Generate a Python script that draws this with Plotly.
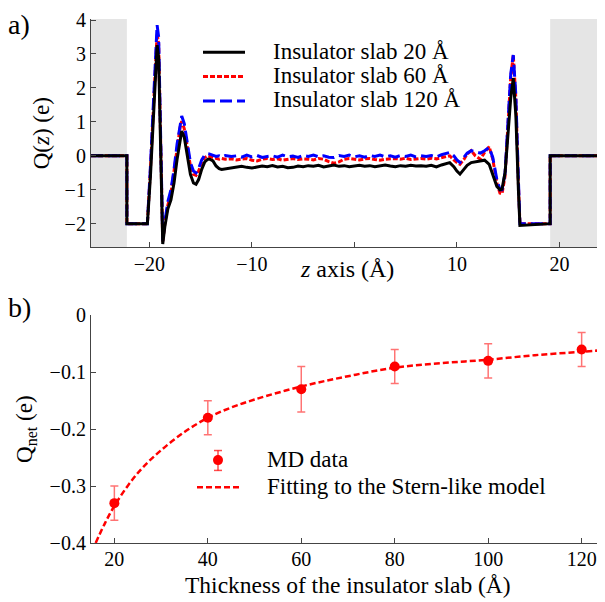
import plotly.graph_objects as go

# ---------------- Panel a data: Q(z) profiles ----------------
z_grid = [-25.7, -22.2, -22.2, -20.2, -19.9, -19.6, -19.4, -19.25, -19.1, -18.9, -18.7, -18.5,
          -18.2, -17.9, -17.6, -17.3, -17.0, -16.85, -16.6, -16.3, -16.0, -15.7, -15.45, -15.2,
          -14.9, -14.6, -14.3, -14.1, -13.8, -13.5, -13.2, -12.95, -12.6,
          -12.0, -11.5, -11.0, -10.5, -10.0, -9.5, -9.0, -8.5, -8.0, -7.5, -7.0, -6.5, -6.0,
          -5.5, -5.0, -4.5, -4.0, -3.5, -3.0, -2.5, -2.0, -1.5, -1.0, -0.5, 0.0, 0.5, 1.0,
          1.5, 2.0, 2.5, 3.0, 3.5, 4.0, 4.5, 5.0, 5.5, 6.0, 6.5, 7.0, 7.5, 8.0, 8.5, 9.0,
          9.3, 9.7, 10.0, 10.3, 10.7, 11.0, 11.4, 11.8, 12.3, 12.7, 13.15, 13.5, 13.9, 14.2,
          14.4, 14.7, 15.0, 15.25, 15.5, 15.75, 16.0, 16.15, 19.1, 19.1, 24.45]

q_20 = [0, 0, -2, -2, -0.6, 1.3, 2.6, 3.26, 2.9, 0.0, -2.6, -2.1,
        -1.56, -1.3, -0.8, -0.1, 0.55, 0.73, 0.55, -0.05, -0.55, -0.8, -0.84, -0.7,
        -0.4, -0.18, -0.1, -0.1, -0.15, -0.3, -0.38, -0.4, -0.38,
        -0.36, -0.33, -0.31, -0.34, -0.36, -0.33, -0.30, -0.32, -0.29, -0.33, -0.31, -0.35, -0.34,
        -0.30, -0.32, -0.29, -0.31, -0.28, -0.33, -0.30, -0.27, -0.31, -0.29, -0.32, -0.30, -0.28, -0.31,
        -0.29, -0.32, -0.30, -0.27, -0.30, -0.32, -0.29, -0.31, -0.28, -0.30, -0.29, -0.31, -0.28, -0.33, -0.27, -0.22,
        -0.2, -0.32, -0.45, -0.54, -0.4, -0.28, -0.2, -0.18, -0.16, -0.13, -0.25, -0.55, -0.9, -1.0,
        -0.98, -0.5, 0.6, 1.7, 2.29, 1.2, -1.0, -2.05, -2.0, 0, 0]

q_60 = [0, 0, -2, -2, -0.4, 1.6, 3.0, 3.6, 3.3, 0.3, -2.55, -2.0,
        -1.45, -1.1, -0.5, 0.2, 0.85, 1.02, 0.8, 0.2, -0.3, -0.55, -0.58, -0.45,
        -0.2, -0.05, 0.0, -0.02, -0.05, -0.08, -0.1, -0.08, -0.1,
        -0.09, -0.12, -0.1, -0.08, -0.13, -0.15, -0.1, -0.08, -0.11, -0.09, -0.13, -0.1, -0.08,
        -0.11, -0.09, -0.1, -0.12, -0.08, -0.1, -0.17, -0.22, -0.18, -0.1, -0.08, -0.1, -0.12, -0.09,
        -0.08, -0.11, -0.13, -0.1, -0.09, -0.08, -0.1, -0.07, -0.11, -0.09, -0.08, -0.1, -0.07, -0.09, -0.06, -0.03,
        0.0, -0.12, -0.2, -0.25, -0.1, 0.05, 0.15, 0.0, -0.1, 0.1, 0.27, -0.1, -0.8, -1.1,
        -1.12, -0.6, 0.9, 2.3, 2.97, 1.7, -0.8, -2.0, -2.0, 0, 0]

q_120 = [0, 0, -2, -2, -0.3, 1.8, 3.2, 3.85, 3.5, 0.4, -2.5, -1.95,
         -1.35, -1.0, -0.4, 0.35, 1.0, 1.17, 0.95, 0.3, -0.2, -0.45, -0.5, -0.38,
         -0.12, 0.02, 0.06, 0.05, 0.02, -0.02, 0.0, -0.03, 0.01,
         -0.02, 0.0, -0.04, 0.02, -0.03, 0.01, -0.05, -0.02, 0.0, -0.04, 0.02, -0.03, -0.01,
         -0.05, 0.01, -0.02, 0.02, -0.03, 0.0, -0.04, -0.05, 0.01, -0.02, 0.02, -0.03, 0.0, -0.04,
         0.01, -0.02, 0.02, -0.03, 0.0, -0.04, 0.01, -0.02, 0.02, -0.03, 0.0, -0.02, 0.01, -0.03, 0.03, 0.06,
         0.1, 0.0, -0.12, -0.2, -0.05, 0.08, 0.15, 0.12, 0.08, 0.15, 0.25, -0.05, -0.7, -1.0,
         -1.0, -0.5, 1.0, 2.4, 2.97, 1.8, -0.7, -2.0, -2.0, 0, 0]

series_names = ["Insulator slab 20 Å", "Insulator slab 60 Å", "Insulator slab 120 Å"]

# metal electrode regions (shaded)
electrode_left = [-25.7, -22.2]
electrode_right = [19.1, 24.45]

# ---------------- Panel b data ----------------
thickness = [20, 40, 60, 80, 100, 120]
q_net = [-0.33, -0.18, -0.13, -0.09, -0.08, -0.06]
q_err = [0.03, 0.03, 0.04, 0.03, 0.03, 0.03]

fit_x = [16, 18, 20, 23, 26, 30, 35, 40, 45, 50, 60, 70, 80, 90, 100, 110, 120, 125]
fit_y = [-0.40, -0.365, -0.335, -0.298, -0.268, -0.237, -0.205, -0.180, -0.162, -0.148,
         -0.125, -0.107, -0.092, -0.084, -0.078, -0.070, -0.064, -0.061]

FONT = "Liberation Serif, Times New Roman, serif"

# The page body has an 8px default margin: size the figure so it fills the window.
OFF = 8
W, H = 605 - OFF, 602 - OFF
ML, MR, MT, MB = 91 - OFF, 0, 16 - OFF, 59
plot_h = H - MT - MB
plot_w = W - ML - MR


def py_to_paper(py):  # py: window pixel
    return (H - MB - (py - OFF)) / plot_h


def px_to_paper(px):  # px: window pixel
    return (px - OFF - ML) / plot_w


def legend_label(text):
    return '<span style="font-size:23px">\u00a0\u00a0\u00a0\u00a0' + text + '</span>'


fig = go.Figure()

line_styles = {0: dict(color="black", width=3),
               1: dict(color="red", width=3, dash="5px,2px"),
               2: dict(color="blue", width=3, dash="12px,5px")}
profiles = {0: q_20, 1: q_60, 2: q_120}
for idx in (1, 2, 0):
    fig.add_trace(go.Scatter(x=z_grid, y=profiles[idx], mode="lines",
                             name=legend_label(series_names[idx]),
                             line=line_styles[idx], legend="legend", legendrank=idx + 1,
                             xaxis="x", yaxis="y"))

fig.add_trace(go.Scatter(x=thickness, y=q_net, mode="markers", name=legend_label("MD data"),
                         marker=dict(color="red", size=10),
                         error_y=dict(type="data", array=q_err, color="rgba(255,0,0,0.55)",
                                      thickness=1.5, width=4),
                         legend="legend2", legendrank=1, xaxis="x2", yaxis="y2"))
fig.add_trace(go.Scatter(x=fit_x, y=fit_y, mode="lines",
                         name=legend_label("Fitting to the Stern-like model"),
                         line=dict(color="red", width=2.5, dash="6px,3px"), line_shape="spline",
                         legend="legend2", legendrank=2, xaxis="x2", yaxis="y2"))

for xr in (electrode_left, electrode_right):
    fig.add_shape(type="rect", xref="x", yref="y domain", x0=xr[0], x1=xr[1], y0=0, y1=1,
                  fillcolor="#e5e5e5", line_width=0, layer="below")

axis_common = dict(showline=True, linecolor="#444", linewidth=1.2, ticks="inside", ticklen=5,
                   tickcolor="#444", showgrid=False, zeroline=False,
                   tickfont=dict(family=FONT, size=20, color="black"), mirror=False)

fig.update_layout(
    width=W, height=H,
    margin=dict(l=ML, r=MR, t=MT, b=MB),
    paper_bgcolor="white", plot_bgcolor="white",
    font=dict(family=FONT, color="black"),
    xaxis=dict(domain=[0, 1], range=[-25.7, 24.45], anchor="y",
               tickvals=[-20, -10, 10, 20], ticktext=["−20", "−10", "10", "20"],
               minor=dict(tickvals=[0], ticks="inside", ticklen=5, tickcolor="#444", showgrid=False),
               ticklabelstandoff=-2, **axis_common),
    yaxis=dict(domain=[0.564, 1], range=[-2.70, 4.03], anchor="x",
               tickvals=[-2, -1, 0, 1, 2, 3, 4],
               title=dict(text="Q(<i>z</i>) (e)", font=dict(family=FONT, size=23), standoff=8),
               **axis_common),
    xaxis2=dict(domain=[0, 1], range=[15, 125], anchor="y2", tickvals=[20, 40, 60, 80, 100, 120],
                ticklabelstandoff=-2, **axis_common),
    yaxis2=dict(domain=[0, 0.4345], range=[-0.4, 0], anchor="x2",
                tickvals=[-0.4, -0.3, -0.2, -0.1, 0], ticktext=["−0.4", "−0.3", "−0.2", "−0.1", "0"],
                title=dict(text="Q<sub>net</sub> (e)", font=dict(family=FONT, size=23), standoff=10),
                **axis_common),
    legend=dict(x=px_to_paper(198), y=py_to_paper(32), xanchor="left", yanchor="top",
                bgcolor="rgba(0,0,0,0)", font=dict(family=FONT, size=16.5, color="black"),
                itemwidth=42, tracegroupgap=0),
    legend2=dict(x=px_to_paper(192), y=py_to_paper(441), xanchor="left", yanchor="top",
                 bgcolor="rgba(0,0,0,0)", font=dict(family=FONT, size=18.5, color="black"),
                 itemwidth=42, tracegroupgap=0),
    showlegend=True,
)

fig.add_annotation(text="<i>z</i> axis (Å)", x=-0.73, xref="x", y=py_to_paper(267), yref="paper",
                   xanchor="center", yanchor="middle", showarrow=False,
                   font=dict(family=FONT, size=24, color="black"))
fig.add_annotation(text="Thickness of the insulator slab (Å)", x=px_to_paper(347.5), xref="paper",
                   y=py_to_paper(585), yref="paper", xanchor="center", yanchor="middle",
                   showarrow=False, font=dict(family=FONT, size=23.5, color="black"))
fig.add_annotation(text="a)", x=px_to_paper(19), y=py_to_paper(22), xref="paper", yref="paper",
                   xanchor="center", yanchor="middle", showarrow=False,
                   font=dict(family=FONT, size=28, color="black"))
fig.add_annotation(text="b)", x=px_to_paper(19), y=py_to_paper(306), xref="paper", yref="paper",
                   xanchor="center", yanchor="middle", showarrow=False,
                   font=dict(family=FONT, size=28, color="black"))

# error-bar glyph for the "MD data" legend entry
lx, ly = 218, 460
fig.add_shape(type="line", xref="paper", yref="paper", x0=px_to_paper(lx), x1=px_to_paper(lx),
              y0=py_to_paper(ly - 10), y1=py_to_paper(ly + 10),
              line=dict(color="rgba(255,0,0,0.7)", width=1.5))
for dy in (-10, 10):
    fig.add_shape(type="line", xref="paper", yref="paper", x0=px_to_paper(lx - 4),
                  x1=px_to_paper(lx + 4), y0=py_to_paper(ly + dy), y1=py_to_paper(ly + dy),
                  line=dict(color="rgba(255,0,0,0.7)", width=1.5))

fig.write_html("out.html")
